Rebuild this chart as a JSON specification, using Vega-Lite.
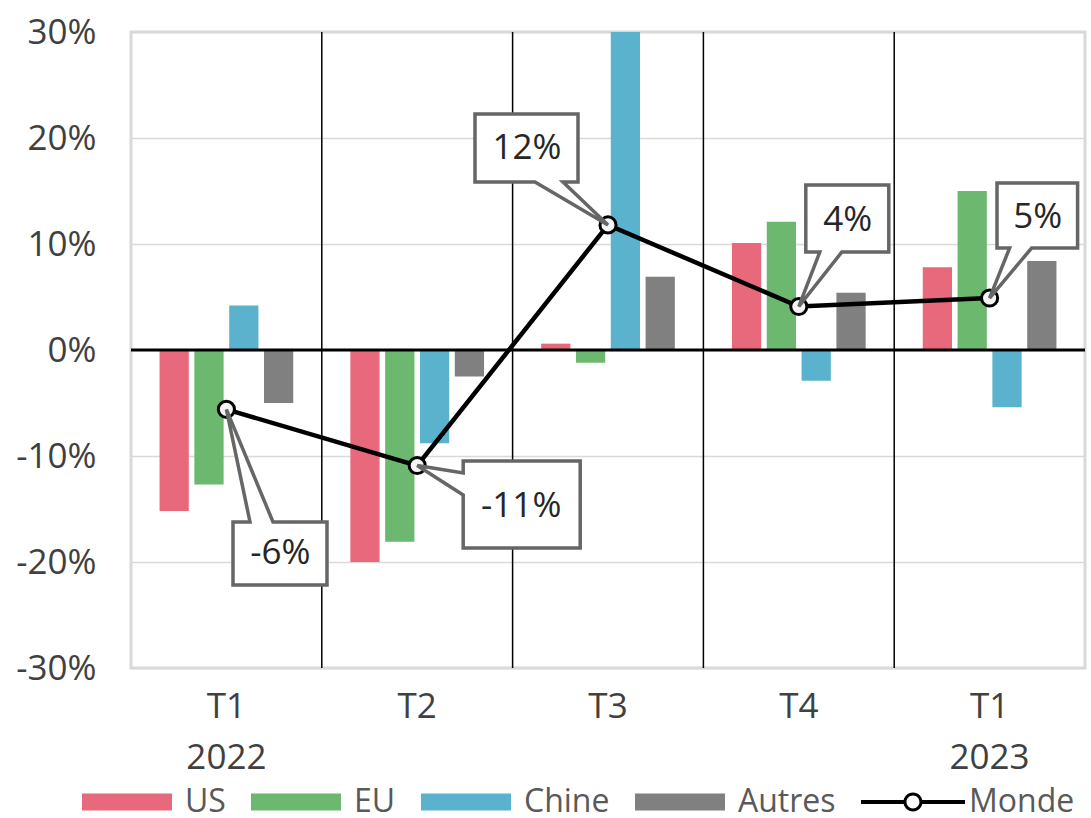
{
  "$schema": "https://vega.github.io/schema/vega-lite/v6.json",
  "width": 954,
  "height": 636,
  "autosize": "none",
  "padding": {"left": 131, "top": 32, "right": 6, "bottom": 150},
  "background": "white",
  "config": {
    "view": {"stroke": "#d9d9d9", "strokeWidth": 3},
    "locale": {"number": {"decimal": ".", "thousands": ",", "grouping": [3], "currency": ["", ""], "minus": "-", "percent": "%"}},
    "axisX": {
      "labelExpr": "split(datum.label, ' ')", "labelAngle": 0,
      "labelFont": "Open Sans", "labelFontSize": 35, "labelColor": "#404040",
      "labelPadding": 21, "labelLineHeight": 51, "ticks": false, "tickSize": 0, "domain": false, "grid": false
    },
    "axisY": {
      "tickCount": 7,
      "labelExpr": "round(datum.value * 100) + '%'",
      "labelFont": "Open Sans", "labelFontSize": 35, "labelColor": "#404040",
      "labelPadding": 35, "ticks": false, "tickSize": 0, "domain": false,
      "grid": true, "gridColor": "#d9d9d9", "gridWidth": 1.5
    }
  },
  "datasets": {
    "bars": [
      {"q": "T1 2022", "s": "US", "v": -0.152},
      {"q": "T1 2022", "s": "EU", "v": -0.127},
      {"q": "T1 2022", "s": "Chine", "v": 0.042},
      {"q": "T1 2022", "s": "Autres", "v": -0.050},
      {"q": "T2", "s": "US", "v": -0.200},
      {"q": "T2", "s": "EU", "v": -0.181},
      {"q": "T2", "s": "Chine", "v": -0.088},
      {"q": "T2", "s": "Autres", "v": -0.025},
      {"q": "T3", "s": "US", "v": 0.006},
      {"q": "T3", "s": "EU", "v": -0.012},
      {"q": "T3", "s": "Chine", "v": 0.30},
      {"q": "T3", "s": "Autres", "v": 0.069},
      {"q": "T4", "s": "US", "v": 0.101},
      {"q": "T4", "s": "EU", "v": 0.121},
      {"q": "T4", "s": "Chine", "v": -0.029},
      {"q": "T4", "s": "Autres", "v": 0.054},
      {"q": "T1 2023", "s": "US", "v": 0.078},
      {"q": "T1 2023", "s": "EU", "v": 0.150},
      {"q": "T1 2023", "s": "Chine", "v": -0.054},
      {"q": "T1 2023", "s": "Autres", "v": 0.084}
    ],
    "monde": [
      {"q": "T1 2022", "v": -0.056},
      {"q": "T2", "v": -0.109},
      {"q": "T3", "v": 0.118},
      {"q": "T4", "v": 0.041},
      {"q": "T1 2023", "v": 0.049}
    ]
  },
  "layer": [
    {
      "data": {"name": "bars"},
      "mark": {"type": "bar"},
      "encoding": {
        "x": {
          "field": "q", "type": "nominal", "title": null,
          "scale": {"domain": ["T1 2022", "T2", "T3", "T4", "T1 2023"], "paddingInner": 0, "paddingOuter": 0}
        },
        "xOffset": {
          "field": "s", "type": "nominal",
          "scale": {"domain": ["US", "EU", "Chine", "Autres"], "paddingInner": 0.16, "paddingOuter": 0.82}
        },
        "y": {
          "field": "v", "type": "quantitative", "title": null,
          "scale": {"domain": [-0.3, 0.3], "nice": false, "zero": false}
        },
        "color": {
          "field": "s", "type": "nominal",
          "scale": {
            "domain": ["US", "EU", "Chine", "Autres", "Monde"],
            "range": ["#E8697B", "#6BB86E", "#5BB2CD", "#808080", "#000000"]
          },
          "legend": {
            "title": null, "orient": "none", "legendX": -49, "legendY": 725,
            "direction": "horizontal", "columns": 5,
            "labelFont": "Open Sans", "labelFontSize": 32, "labelColor": "#595959",
            "labelOffset": 13, "columnPadding": 25,
            "symbolSize": 8100, "symbolType": "M-1,-0.19L1,-0.19L1,0.19L-1,0.19Z",
            "symbolStrokeWidth": 0, "symbolOpacity": 1,
            "encode": {
              "symbols": {
                "update": {
                  "shape": {"signal": "datum.value === 'Monde' ? 'M-1.111,-0.044L-0.136,-0.044L-0.136,0.044L-1.111,0.044ZM0.224,-0.044L1.2,-0.044L1.2,0.044L0.224,0.044ZM0.255,0A0.211,0.211,0,1,1,-0.167,0A0.211,0.211,0,1,1,0.255,0ZM0.188,0A0.144,0.144,0,1,0,-0.1,0A0.144,0.144,0,1,0,0.188,0Z' : 'M-1,-0.19L1,-0.19L1,0.19L-1,0.19Z'"}
                }
              }
            }
          }
        }
      }
    },
    {
      "data": {"name": "monde"},
      "transform": [{"filter": "datum.q !== 'T1 2022'"}],
      "mark": {"type": "rule", "color": "#000000", "strokeWidth": 1.5},
      "encoding": {
        "x": {"field": "q", "type": "nominal", "bandPosition": 0, "title": null}
      }
    },
    {
      "data": {"values": [{}]},
      "mark": {"type": "rule", "color": "#000000", "strokeWidth": 3},
      "encoding": {"y": {"datum": 0, "type": "quantitative", "title": null}}
    },
    {
      "data": {"name": "monde"},
      "encoding": {
        "x": {"field": "q", "type": "nominal", "title": null},
        "y": {"field": "v", "type": "quantitative", "title": null}
      },
      "layer": [
        {"mark": {"type": "line", "color": "#000000", "strokeWidth": 4.5}},
        {"mark": {"type": "point", "shape": "circle", "size": 260, "filled": true, "fill": "#f4f4f4", "stroke": "#000000", "strokeWidth": 3, "opacity": 1}},
        {
          "mark": {"type": "point", "size": 4, "filled": true, "fill": "#ffffff", "stroke": "#666666", "strokeWidth": 3.5, "strokeJoin": "miter", "opacity": 1},
          "encoding": {
            "shape": {
              "field": "q", "type": "nominal", "legend": null,
              "scale": {
                "domain": ["T1 2022", "T2", "T3", "T4", "T1 2023"],
                "range": [
                  "M6.6,112.6L23.6,112.6L0,0L46.6,112.6L100.6,112.6L100.6,175.6L6.6,175.6Z",
                  "M46,-4.5L163,-4.5L163,82.5L46,82.5L46,29.5L0,0L46,7.5Z",
                  "M-133,-111L-30,-111L-30,-43L-45,-43L0,0L-73,-43L-133,-43Z",
                  "M7,-121.5L90,-121.5L90,-54.5L43,-54.5L0,0L21,-54.5L7,-54.5Z",
                  "M7.4,-115L88,-115L88,-50L42,-50L0,0L20,-50L7.4,-50Z"
                ]
              }
            }
          }
        },
        {
          "transform": [{"filter": "datum.q === 'T1 2022'"}],
          "mark": {"type": "text", "dx": 54, "dy": 144, "font": "Open Sans", "fontSize": 35, "color": "#262626", "align": "center", "baseline": "middle"},
          "encoding": {"text": {"field": "v", "type": "quantitative", "format": ".0%"}}
        },
        {
          "transform": [{"filter": "datum.q === 'T2'"}],
          "mark": {"type": "text", "dx": 104, "dy": 40, "font": "Open Sans", "fontSize": 35, "color": "#262626", "align": "center", "baseline": "middle"},
          "encoding": {"text": {"field": "v", "type": "quantitative", "format": ".0%"}}
        },
        {
          "transform": [{"filter": "datum.q === 'T3'"}],
          "mark": {"type": "text", "dx": -81, "dy": -77, "font": "Open Sans", "fontSize": 35, "color": "#262626", "align": "center", "baseline": "middle"},
          "encoding": {"text": {"field": "v", "type": "quantitative", "format": ".0%"}}
        },
        {
          "transform": [{"filter": "datum.q === 'T4'"}],
          "mark": {"type": "text", "dx": 49, "dy": -87, "font": "Open Sans", "fontSize": 35, "color": "#262626", "align": "center", "baseline": "middle"},
          "encoding": {"text": {"field": "v", "type": "quantitative", "format": ".0%"}}
        },
        {
          "transform": [{"filter": "datum.q === 'T1 2023'"}],
          "mark": {"type": "text", "dx": 48, "dy": -81, "font": "Open Sans", "fontSize": 35, "color": "#262626", "align": "center", "baseline": "middle"},
          "encoding": {"text": {"field": "v", "type": "quantitative", "format": ".0%"}}
        }
      ]
    }
  ]
}
